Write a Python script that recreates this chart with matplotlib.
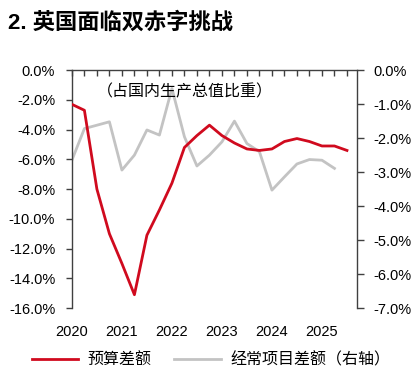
import matplotlib
matplotlib.use("Agg")
import matplotlib.pyplot as plt
from matplotlib.ticker import FuncFormatter, MultipleLocator

plt.rcParams["font.family"] = ["Liberation Sans", "Noto Sans CJK SC", "DejaVu Sans"]
plt.rcParams["axes.unicode_minus"] = False

# 季度数据（占GDP %），2020Q1 起
budget_x = [2020 + 0.25 * i for i in range(23)]
budget = [-2.3, -2.7, -8.0, -11.0, -13.0, -15.1, -11.1, -9.4, -7.6, -5.2, -4.4, -3.7,
          -4.4, -4.9, -5.3, -5.4, -5.3, -4.8, -4.6, -4.8, -5.1, -5.1, -5.4]
current_x = [2020 + 0.25 * i for i in range(22)]
current = [-2.65, -1.72, -1.62, -1.52, -2.94, -2.5, -1.76, -1.91, -0.54, -1.96, -2.82, -2.5,
           -2.11, -1.5, -2.16, -2.4, -3.53, -3.14, -2.76, -2.63, -2.65, -2.89]
years = [2020, 2021, 2022, 2023, 2024, 2025]

RED = "#D00A1E"
GRAY = "#C3C3C3"
AX = "#404040"

fig = plt.figure(figsize=(4.18, 3.73), dpi=100, facecolor="white")
ax = fig.add_axes([0.172, 0.174, 0.682, 0.638])
ax2 = ax.twinx()

l1, = ax.plot(budget_x, budget, color=RED, lw=2.0, zorder=3)
l2, = ax2.plot(current_x, current, color=GRAY, lw=2.0)
ax.set_zorder(ax2.get_zorder() + 1)
ax.patch.set_visible(False)

ax.set_xlim(2020, 2025.7)
ax.set_ylim(-16, 0)
ax2.set_ylim(-7, 0)

ax.yaxis.set_major_locator(MultipleLocator(2))
ax2.yaxis.set_major_locator(MultipleLocator(1))
ax.yaxis.set_major_formatter(FuncFormatter(lambda v, p: f"{v:.1f}%"))
ax2.yaxis.set_major_formatter(FuncFormatter(lambda v, p: f"{v:.1f}%"))

ax.set_xticks(years)
ax.set_xticklabels([str(y) for y in years])
ax.xaxis.set_minor_locator(MultipleLocator(0.25))

for a in (ax, ax2):
    a.spines["bottom"].set_visible(False)
    for s in a.spines.values():
        s.set_color(AX)
        s.set_linewidth(1.0)
ax.spines["right"].set_visible(False)
ax2.spines["left"].set_visible(False)
ax2.spines["top"].set_visible(False)

ax.tick_params(axis="x", which="both", top=True, bottom=False, labeltop=False,
               labelbottom=True, direction="in", length=4, width=1, color=AX,
               pad=12, labelsize=10.5, labelcolor="black")
ax.tick_params(axis="y", direction="out", length=4, width=1, color=AX, pad=8,
               labelsize=10.5)
ax2.tick_params(axis="y", direction="out", length=5, width=1, color=AX, pad=7,
                labelsize=10.5)

fig.text(97 / 418, 1 - 92 / 373, "（占国内生产总值比重）", fontsize=11.5,
         ha="left", va="center")

fig.text(8 / 418, 1 - 23 / 373, "2. 英国面临双赤字挑战", fontsize=16,
         fontweight="bold", ha="left", va="center")

fig.legend([l1, l2], ["预算差额", "经常项目差额（右轴）"], loc="center",
           bbox_to_anchor=(0.505, 1 - 360 / 373), ncol=2, frameon=False,
           fontsize=11.5, handlelength=2.9, handletextpad=0.6, columnspacing=1.4,
           borderaxespad=0, borderpad=0)

fig.savefig("out.png", dpi=100, facecolor="white")
